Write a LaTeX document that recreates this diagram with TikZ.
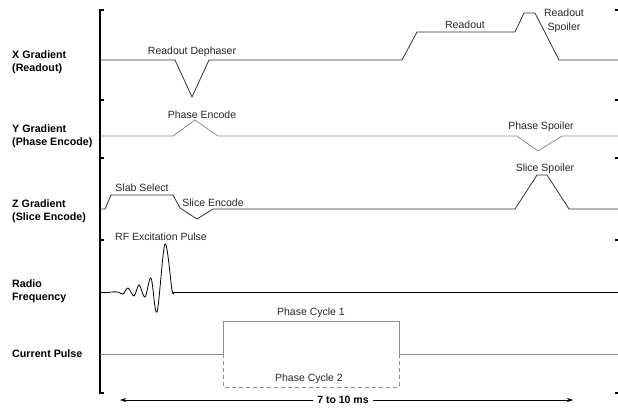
\documentclass[tikz,border=0pt]{standalone}
\usepackage{fontspec}
\setmainfont{Liberation Sans}
\usetikzlibrary{arrows.meta}

\begin{document}
\begin{tikzpicture}[
    x=1pt, y=-1pt,
    >={Stealth[length=6pt,width=4pt]},
    font=\fontsize{10.5}{13.5}\selectfont,
    wave/.style={line width=0.8pt, draw=black!80},
    lwave/.style={line width=0.8pt, draw=black!45},
    dwave/.style={lwave, dashed, dash pattern=on 4pt off 3pt},
    axis/.style={line width=2.8pt},
    tickmark/.style={line width=1.4pt},
    chan/.style={anchor=west, align=left, inner sep=0pt, font=\fontsize{10.7}{13.5}\selectfont\bfseries},
    tag/.style={inner sep=0pt, align=center, text=black!85},
    arr/.style={->, line width=0.6pt}
]
\useasboundingbox (0,0) rectangle (618,409);

% =========================================================
% 1) CHANNEL NAMES AND TIME AXIS
% =========================================================
\node[chan] (xname) at (12,62)  {X Gradient\\(Readout)};
\node[chan] (yname) at (12,136) {Y Gradient\\(Phase Encode)};
\node[chan] (zname) at (12,211) {Z Gradient\\(Slice Encode)};
\node[chan] (rfname) at (12,291) {Radio\\Frequency};
\node[chan] (cpname) at (12,354) {Current Pulse};

\draw[axis] (100,9) -- (100,394);
\foreach \ty in {10,100,158,240,393} {
  \draw[tickmark] (100,\ty) -- (104,\ty);
  \draw[tickmark] (615,\ty) -- (618,\ty);
}

% =========================================================
% 2) GRADIENT CHANNELS
% =========================================================
% X: dephaser lobe, readout plateau, spoiler
\draw[wave] (100,60) -- (175,60) -- (192,97) -- (209,60) -- (402,60)
  -- (417,32) -- (515,32) -- (524,13) -- (535,13) -- (559,60) -- (618,60);
\node[tag] (dephase) at (192,52) {Readout Dephaser};
\node[tag] (readout) at (465,25) {Readout};
\node[tag] (rspoil) at (564,21) {Readout\\Spoiler};

% Y: phase encode and phase spoiler
\draw[lwave] (100,136) -- (173,136) -- (195,120) -- (218,136) -- (517,136)
  -- (538,151) -- (562,136) -- (618,136);
\node[tag] (phenc) at (202,115) {Phase Encode};
\node[tag] (phspoil) at (541,127) {Phase Spoiler};

% Z: slab select, slice encode, slice spoiler
\draw[wave] (100,209) -- (105,209) -- (111,195) -- (173,195) -- (180,208)
  -- (197,219) -- (213,209) -- (515,209) -- (537,175) -- (547,175)
  -- (569,209) -- (618,209);
\node[tag] (slab) at (142,188) {Slab Select};
\node[tag] (slenc) at (213,203) {Slice Encode};
\node[tag] (slspoil) at (545,169) {Slice Spoiler};

% =========================================================
% 3) RF EXCITATION
% =========================================================
\draw[wave, draw=black] (100,292) -- (110,292);
\draw[wave, draw=black] plot[smooth, tension=0.55] coordinates {
  (110,292) (118,292) (123,294) (128,288) (134,296) (139,285)
  (145,297) (151,278) (157,312) (165,244) (172,290) (174,292)};
\draw[wave, draw=black] (174,292) -- (618,292);
\node[tag] (rfpulse) at (161,237) {RF Excitation Pulse};

% =========================================================
% 4) CURRENT PULSE, TWO PHASE CYCLES
% =========================================================
\draw[lwave] (100,354) -- (223,354) -- (223,321) -- (399,321) -- (399,354) -- (618,354);
\draw[dwave] (223,354) -- (223,387) -- (399,387) -- (399,354);
\node[tag] (cyc1) at (311,313) {Phase Cycle 1};
\node[tag] (cyc2) at (309,379) {Phase Cycle 2};

% Echo time span
\coordinate (spanL) at (120,400);
\coordinate (spanR) at (573,400);
\node[font=\fontsize{10.5}{13.5}\selectfont\bfseries, inner sep=4pt] (span) at (343,400) {7 to 10 ms};
\draw[arr] (span.west) -- (spanL);
\draw[arr] (span.east) -- (spanR);

\end{tikzpicture}
\end{document}
